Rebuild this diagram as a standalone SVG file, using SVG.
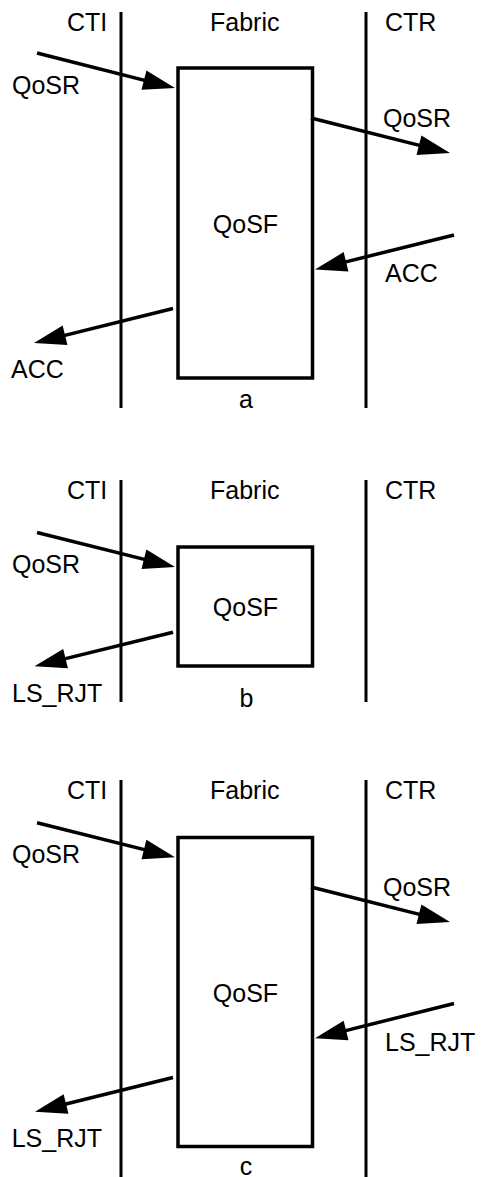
<svg xmlns="http://www.w3.org/2000/svg" width="482" height="1177" viewBox="0 0 482 1177">
<style>
.t{font-family:"Liberation Sans",Arial,sans-serif;font-size:25px;fill:#000}
.m{text-anchor:middle}
.v{stroke:#000;stroke-width:3;fill:none}
.b{stroke:#000;stroke-width:3.5;fill:#fff}
.a{stroke:#000;stroke-width:3.5;fill:none;marker-end:url(#ah)}
</style>
<defs>
<marker id="ah" markerUnits="userSpaceOnUse" markerWidth="34" markerHeight="22" refX="22" refY="10" orient="auto" overflow="visible">
<path d="M0,0 L32,10 L0,20 Z" fill="#000"/>
</marker>
</defs>
<g id="lanes">
<line class="v" x1="121" y1="12" x2="121" y2="408"/>
<line class="v" x1="366" y1="12" x2="366" y2="408"/>
<line class="v" x1="121" y1="480" x2="121" y2="702"/>
<line class="v" x1="366" y1="480" x2="366" y2="702"/>
<line class="v" x1="121" y1="780" x2="121" y2="1177"/>
<line class="v" x1="366" y1="780" x2="366" y2="1177"/>
</g>
<g id="headers">
<text class="t" x="67" y="31">CTI</text>
<text class="t" x="210" y="31">Fabric</text>
<text class="t" x="385" y="31">CTR</text>
<text class="t" x="67" y="499">CTI</text>
<text class="t" x="210" y="499">Fabric</text>
<text class="t" x="385" y="499">CTR</text>
<text class="t" x="67" y="799">CTI</text>
<text class="t" x="210" y="799">Fabric</text>
<text class="t" x="385" y="799">CTR</text>
</g>
<g id="node-qosf-a">
<rect class="b" x="178" y="68" width="134.5" height="310"/>
<text class="t m" x="245.5" y="232.5">QoSF</text>
</g>
<g id="node-qosf-b">
<rect class="b" x="178" y="547" width="134.5" height="119"/>
<text class="t m" x="245.5" y="616">QoSF</text>
</g>
<g id="node-qosf-c">
<rect class="b" x="178" y="837.5" width="134.5" height="309"/>
<text class="t m" x="245.5" y="1001.7">QoSF</text>
</g>
<g id="connectors">
<line class="a" x1="37" y1="53" x2="165.3" y2="85.6"/>
<line class="a" x1="311" y1="118" x2="440.3" y2="150.6"/>
<line class="a" x1="454" y1="235" x2="324.7" y2="267.1"/>
<line class="a" x1="173" y1="308.5" x2="43.7" y2="340.6"/>
<line class="a" x1="37" y1="532.5" x2="165.3" y2="564.6"/>
<line class="a" x1="173" y1="632.3" x2="44.2" y2="663.9"/>
<line class="a" x1="37" y1="822.8" x2="165.3" y2="854.9"/>
<line class="a" x1="311" y1="887" x2="440.3" y2="919.6"/>
<line class="a" x1="454" y1="1003.5" x2="324.7" y2="1035.9"/>
<line class="a" x1="173" y1="1077.5" x2="44.7" y2="1109.3"/>
</g>
<g id="labels">
<text class="t" x="12" y="94">QoSR</text>
<text class="t" x="383" y="126.7">QoSR</text>
<text class="t" x="385" y="281.7">ACC</text>
<text class="t" x="11" y="377.7">ACC</text>
<text class="t m" x="246" y="408.3">a</text>
<text class="t" x="12" y="572.7">QoSR</text>
<text class="t" x="12" y="702.3">LS_RJT</text>
<text class="t m" x="246.5" y="706.7">b</text>
<text class="t" x="12" y="863.3">QoSR</text>
<text class="t" x="383" y="896">QoSR</text>
<text class="t" x="385" y="1050.7">LS_RJT</text>
<text class="t" x="11.7" y="1146.7">LS_RJT</text>
<text class="t m" x="246" y="1175">c</text>
</g>
</svg>
